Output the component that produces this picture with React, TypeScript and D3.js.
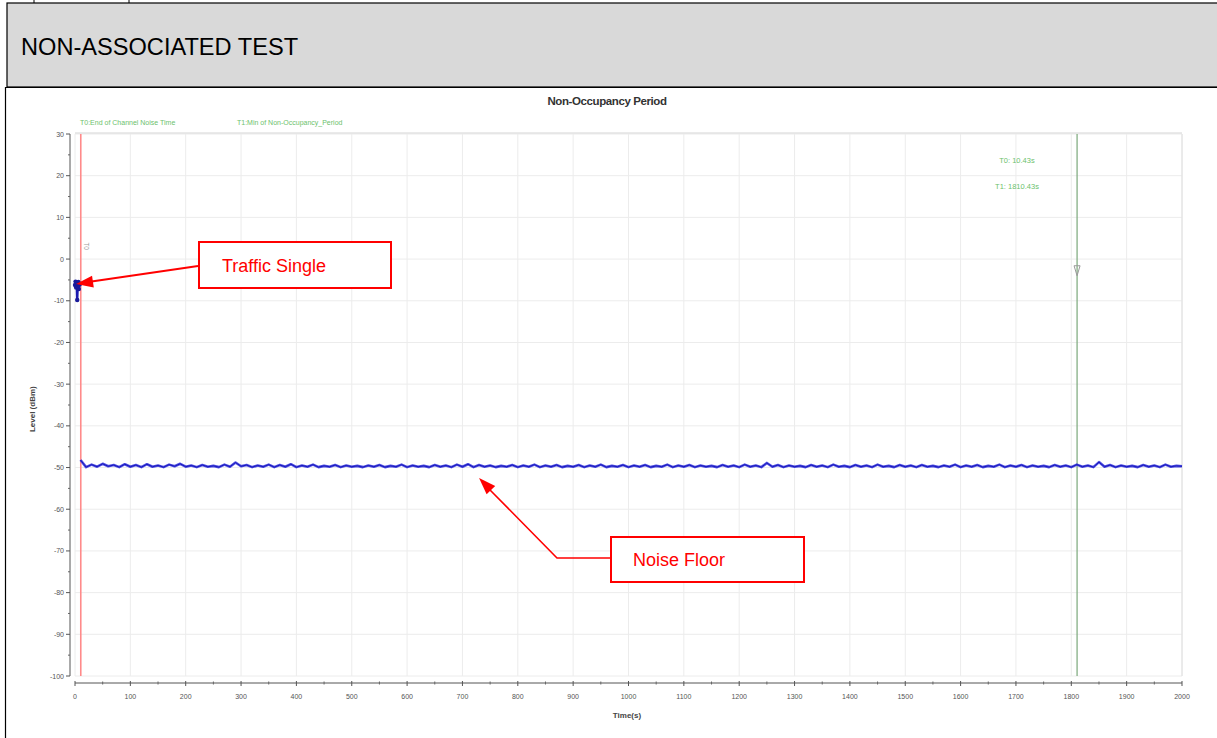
import React from "react";
import * as d3 from "d3";

// ---- data ----
const headerTitle = "NON-ASSOCIATED TEST";
const chartTitle = "Non-Occupancy Period";
const xTicks = [0, 100, 200, 300, 400, 500, 600, 700, 800, 900, 1000, 1100, 1200, 1300, 1400, 1500, 1600, 1700, 1800, 1900, 2000];
const yTicks = [30, 20, 10, 0, -10, -20, -30, -40, -50, -60, -70, -80, -90, -100];
const legendLabels = ["T0:End of Channel Noise Time", "T1:Min of Non-Occupancy_Period"];
const markerTimes = [10.43, 1810.43];
const markerLabels = ["T0: 10.43s", "T1: 1810.43s"];

const trafficTimes = [0, 1, 2, 3, 4, 5, 6, 7, 8, 9];
const trafficLevels = [-6.2, -5.4, -6.8, -5.8, -9.8, -6.0, -5.5, -7.2, -6.1, -5.9];

const noiseStart = 10;
const noiseStep = 10;
const noiseLevels = [
  -48.2, -49.9, -49.3, -49.8, -49.1, -49.7, -49.4, -49.9, -49.2, -49.8,
  -49.4, -49.9, -49.2, -49.8, -49.5, -49.9, -49.3, -49.7, -49.1, -49.8,
  -49.5, -49.9, -49.4, -49.8, -49.6, -49.9, -49.3, -49.8, -48.8, -49.7,
  -49.4, -49.9, -49.5, -49.8, -49.3, -49.9, -49.4, -49.8, -49.2, -49.9,
  -49.5, -49.8, -49.3, -49.9, -49.6, -49.8, -49.4, -49.9, -49.5, -49.8,
  -49.6, -49.9, -49.5, -49.8, -49.4, -49.9, -49.6, -49.8, -49.3, -49.9,
  -49.5, -49.8, -49.6, -49.9, -49.4, -49.8, -49.5, -49.9, -49.3, -49.8,
  -49.2, -49.9, -49.4, -49.8, -49.5, -49.9, -49.6, -49.8, -49.4, -49.9,
  -49.5, -49.8, -49.3, -49.9, -49.5, -49.8, -49.4, -49.9, -49.6, -49.8,
  -49.4, -49.9, -49.5, -49.8, -49.3, -49.9, -49.6, -49.8, -49.4, -49.9,
  -49.5, -49.8, -49.4, -49.9, -49.6, -49.8, -49.3, -49.9, -49.5, -49.8,
  -49.4, -49.9, -49.5, -49.8, -49.6, -49.9, -49.4, -49.8, -49.5, -49.9,
  -49.3, -49.8, -49.5, -49.9, -48.9, -49.8, -49.4, -49.9, -49.5, -49.8,
  -49.6, -49.9, -49.4, -49.8, -49.5, -49.9, -49.3, -49.8, -49.6, -49.9,
  -49.4, -49.8, -49.5, -49.9, -49.3, -49.8, -49.6, -49.9, -49.4, -49.8,
  -49.5, -49.9, -49.4, -49.8, -49.6, -49.9, -49.5, -49.8, -49.3, -49.9,
  -49.5, -49.8, -49.4, -49.9, -49.6, -49.8, -49.3, -49.9, -49.5, -49.8,
  -49.4, -49.9, -49.5, -49.8, -49.6, -49.9, -49.4, -49.8, -49.5, -49.9,
  -49.3, -49.8, -49.5, -49.9, -48.7, -49.8, -49.4, -49.9, -49.5, -49.8,
  -49.6, -49.9, -49.4, -49.8, -49.5, -49.9, -49.3, -49.8, -49.6, -49.7,
];

// annotation anchors (data-space)
const trafficArrowTarget = { t: 2, v: -6 };
const noiseArrowTarget = { t: 730, v: -52.5 };

const W = 1217;
const H = 738;

export default function App() {
  const x = d3.scaleLinear().domain([0, 2000]).range([75, 1182]);
  const y = d3.scaleLinear().domain([-100, 30]).range([676, 134]);

  const yAxisX = 70;
  const xAxisY = 683;

  const noisePts: [number, number][] = noiseLevels.map((v, i) => [noiseStart + i * noiseStep, v]);
  const trafficPts: [number, number][] = trafficTimes.map((t, i) => [t, trafficLevels[i]]);
  const line = d3
    .line<[number, number]>()
    .x((d) => x(d[0]))
    .y((d) => y(d[1]));

  const xMinor = d3.range(50, 2000, 100);
  const yMinor = d3.range(-95, 30, 10);

  const green = "#6cbf6c";
  const red = "#ff0000";

  const tA = { x: x(trafficArrowTarget.t), y: y(trafficArrowTarget.v) };
  const nA = { x: x(noiseArrowTarget.t), y: y(noiseArrowTarget.v) };

  const arrowHead = (tipX: number, tipY: number, fromX: number, fromY: number, len = 17, half = 6) => {
    const ang = Math.atan2(tipY - fromY, tipX - fromX);
    const bx = tipX - len * Math.cos(ang);
    const by = tipY - len * Math.sin(ang);
    const px = -Math.sin(ang) * half;
    const py = Math.cos(ang) * half;
    return `${tipX},${tipY} ${bx + px},${by + py} ${bx - px},${by - py}`;
  };

  return (
    <svg
      width={W}
      height={H}
      viewBox={`0 0 ${W} ${H}`}
      style={{ position: "absolute", left: 0, top: 0, background: "#fff" }}
      fontFamily="Arial, 'Liberation Sans', sans-serif"
    >
      {/* table cell stubs above */}
      <line x1={34} y1={0} x2={34} y2={3} stroke="#000" />
      <line x1={129} y1={0} x2={129} y2={3} stroke="#000" />
      {/* header box */}
      <rect x={7} y={3} width={1215} height={84} fill="#d9d9d9" stroke="#000" strokeWidth={1.2} />
      <text x={21} y={55} fontSize={23.6} fill="#000">
        {headerTitle}
      </text>
      {/* chart box */}
      <line x1={5} y1={87.5} x2={W} y2={87.5} stroke="#000" strokeWidth={1.2} />
      <line x1={5.5} y1={87} x2={5.5} y2={H} stroke="#000" strokeWidth={1.2} />

      {/* grid */}
      {xTicks.map((t) => (
        <line key={"gx" + t} x1={x(t)} x2={x(t)} y1={y(30)} y2={y(-100)} stroke="#ececec" strokeWidth={1} />
      ))}
      {yTicks.map((t) => (
        <line key={"gy" + t} x1={x(0)} x2={x(2000)} y1={y(t)} y2={y(t)} stroke="#ececec" strokeWidth={1} />
      ))}
      <line x1={x(0)} x2={x(2000)} y1={y(30) - 1} y2={y(30) - 1} stroke="#d6d6d6" strokeWidth={1.2} />
      <line x1={x(2000)} x2={x(2000)} y1={y(30)} y2={y(-100)} stroke="#e0e0e0" strokeWidth={1} />

      {/* title */}
      <text x={607} y={105} textAnchor="middle" fontSize={11.5} fontWeight="bold" fill="#333" letterSpacing={-0.4}>
        {chartTitle}
      </text>

      {/* legend labels */}
      <text x={80} y={125} fontSize={7} fill={green}>
        {legendLabels[0]}
      </text>
      <text x={237} y={125} fontSize={7} fill={green}>
        {legendLabels[1]}
      </text>

      {/* marker texts */}
      <text x={1017} y={163} fontSize={7.5} fill={green} textAnchor="middle">
        {markerLabels[0]}
      </text>
      <text x={1017} y={189} fontSize={7.5} fill={green} textAnchor="middle">
        {markerLabels[1]}
      </text>

      {/* y axis */}
      <line x1={yAxisX} x2={yAxisX} y1={y(30)} y2={y(-100)} stroke="#555" strokeWidth={1} />
      {yTicks.map((t) => (
        <g key={"yt" + t}>
          <line x1={yAxisX - 4} x2={yAxisX} y1={y(t)} y2={y(t)} stroke="#555" />
          <text x={yAxisX - 6} y={y(t) + 2.5} fontSize={7} fill="#555" textAnchor="end">
            {t}
          </text>
        </g>
      ))}
      {yMinor.map((t) => (
        <line key={"ym" + t} x1={yAxisX - 2} x2={yAxisX} y1={y(t)} y2={y(t)} stroke="#666" />
      ))}
      <text
        transform={`translate(35,${y(-36)}) rotate(-90)`}
        textAnchor="middle"
        fontSize={8}
        fontWeight="bold"
        fill="#444"
      >
        Level (dBm)
      </text>

      {/* x axis */}
      <line x1={x(0)} x2={x(2000)} y1={xAxisY} y2={xAxisY} stroke="#555" strokeWidth={1} />
      {xTicks.map((t) => (
        <g key={"xt" + t}>
          <line x1={x(t)} x2={x(t)} y1={xAxisY - 2} y2={xAxisY + 3} stroke="#555" />
          <text x={x(t)} y={xAxisY + 16} fontSize={7} fill="#555" textAnchor="middle">
            {t}
          </text>
        </g>
      ))}
      {xMinor.map((t) => (
        <line key={"xm" + t} x1={x(t)} x2={x(t)} y1={xAxisY - 1.5} y2={xAxisY + 1.5} stroke="#666" />
      ))}
      <text x={627} y={718} fontSize={8} fontWeight="bold" fill="#444" textAnchor="middle">
        Time(s)
      </text>

      {/* marker lines */}
      <line x1={x(markerTimes[0])} x2={x(markerTimes[0])} y1={y(30)} y2={y(-100)} stroke="#ff8a8a" strokeWidth={1.6} />
      <text transform={`translate(${x(markerTimes[0]) + 3},${y(4)}) rotate(90)`} fontSize={6.5} fill="#999">
        T0
      </text>
      <line x1={x(markerTimes[1])} x2={x(markerTimes[1])} y1={y(30)} y2={y(-100)} stroke="#7aa87a" strokeWidth={1.2} />
      <path
        d={`M${x(markerTimes[1]) - 3},${y(-1.6)} L${x(markerTimes[1]) + 3},${y(-1.6)} L${x(markerTimes[1])},${y(-4)} Z`}
        fill="none"
        stroke="#999"
        strokeWidth={1}
      />

      {/* data */}
      <path d={line(noisePts) || ""} fill="none" stroke="#3030e0" strokeWidth={2.6} strokeLinejoin="round" opacity={0.85} />
      <path d={line(noisePts) || ""} fill="none" stroke="#1818b8" strokeWidth={1} strokeLinejoin="round" />
      <path d={line(trafficPts) || ""} fill="none" stroke="#1a1ab0" strokeWidth={2.4} />
      {trafficPts.map((p, i) => (
        <circle key={"tp" + i} cx={x(p[0])} cy={y(p[1])} r={2.2} fill="#1a1a9a" />
      ))}

      {/* Traffic Single annotation */}
      <line x1={198} y1={266} x2={tA.x + 12} y2={tA.y - 2} stroke={red} strokeWidth={2} />
      <polygon points={arrowHead(tA.x, tA.y, 198, 266)} fill={red} />
      <rect x={199} y={242} width={192} height={46} fill="#fff" stroke={red} strokeWidth={2} />
      <text x={222} y={272} fontSize={18} fill={red}>
        Traffic Single
      </text>

      {/* Noise Floor annotation */}
      <polyline
        points={`611,558 557,558 ${nA.x + 9},${nA.y + 10}`}
        fill="none"
        stroke={red}
        strokeWidth={1.6}
      />
      <polygon points={arrowHead(nA.x, nA.y, 557, 558, 17, 6)} fill={red} />
      <rect x={611} y={537} width={193} height={45} fill="#fff" stroke={red} strokeWidth={2} />
      <text x={633} y={566} fontSize={18} fill={red}>
        Noise Floor
      </text>
    </svg>
  );
}
